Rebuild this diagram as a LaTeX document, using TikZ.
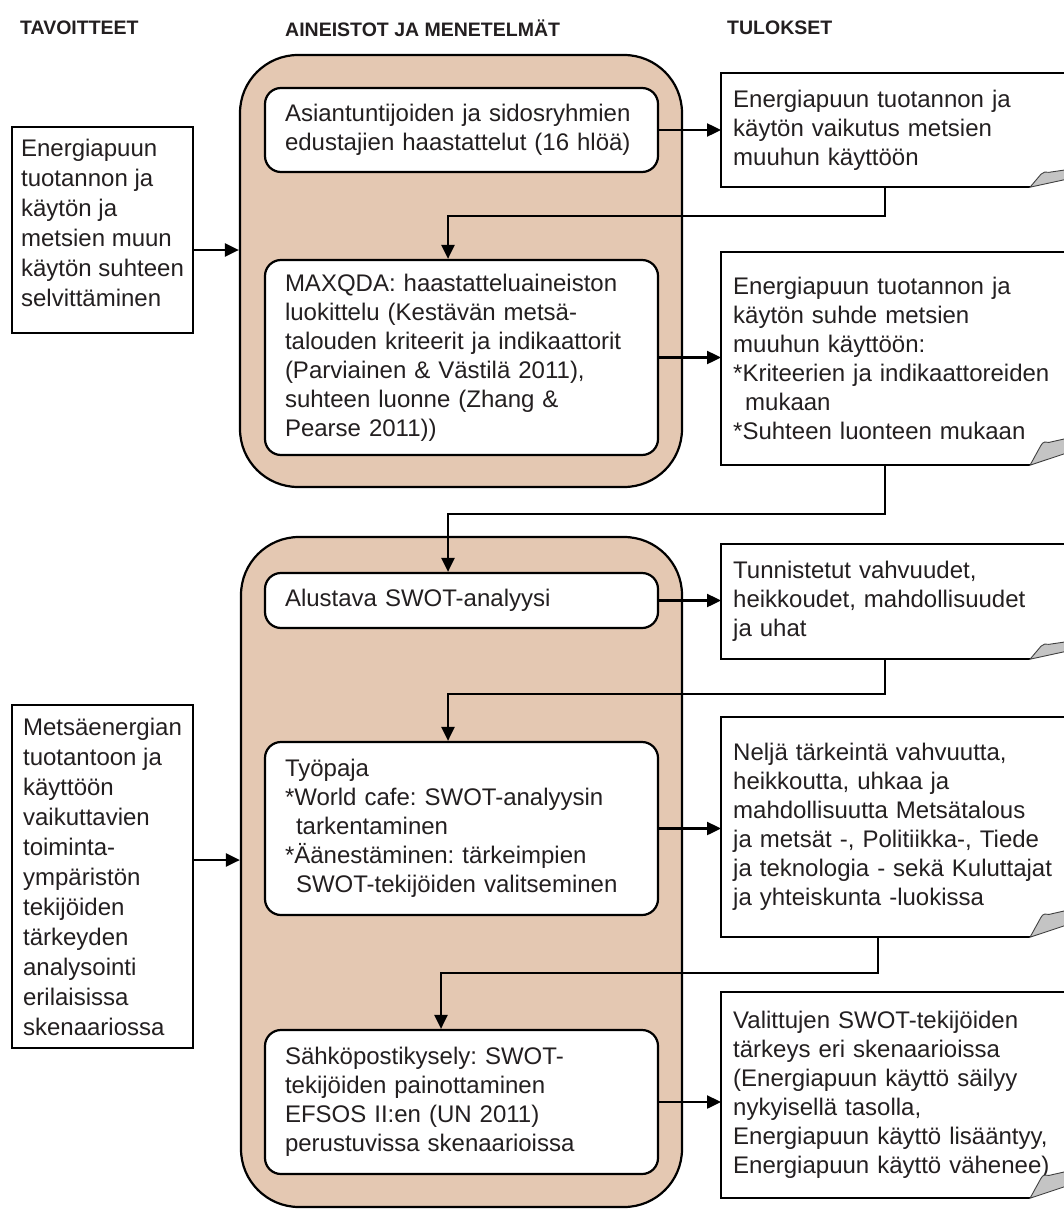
\documentclass[tikz,border=0pt]{standalone}
\usepackage{fontspec}
\setmainfont{Liberation Sans}
\usetikzlibrary{arrows.meta,calc}
\definecolor{mytan}{HTML}{E4C8B2}
\definecolor{txt}{HTML}{231F20}
\definecolor{curlgray}{HTML}{C4C4C4}
\newcommand\resoutline[2]{%
  \draw[line width=2.2] (#1.north east) -- (#1.north west) -- (#1.south west) -- (#1.south west -| xc);
  \begin{scope}[shift={(#1.south west -| xc)}, yscale=#2]
    \filldraw[fill=curlgray, draw=black!75, line width=0.9] (0,0) -- (11,-21) .. controls (13,-25) and (16,-25) .. (19,-24) -- (40,-29) -- (40,-14) -- cycle;
  \end{scope}}
\frenchspacing
\begin{document}
\begin{tikzpicture}[x=1pt,y=-1pt,
  every node/.style={text=txt, font=\fontsize{24}{29}\selectfont},
  header/.style={anchor=west, inner sep=0, font=\fontsize{19.5}{22}\selectfont\bfseries},
  container/.style={draw, fill=mytan, rounded corners=58, line width=2.2, inner sep=0},
  inbox/.style={draw, fill=white, rounded corners=16, line width=2.2, text width=353, inner xsep=20, inner ysep=0, align=left, minimum width=393},
  leftbox/.style={draw, fill=white, line width=2.2, align=left, minimum width=181, inner xsep=0, inner ysep=0, font=\fontsize{24}{30}\selectfont},
  resbox/.style={anchor=west, text width=330, inner xsep=12, inner ysep=0, align=left},
  arr/.style={-{Triangle[length=14pt,width=13pt]}, line width=2.4},
  conn/.style={line width=2.4}]
\useasboundingbox (0,0) rectangle (1064,1209);
\clip (0,0) rectangle (1064,1209);

% helper coordinates
\coordinate (xa) at (885,0);
\coordinate (xa2) at (878,0);
\coordinate (xc) at (1030,0);
\coordinate (y1) at (0,250);
\coordinate (y2) at (0,860);
\coordinate (b1) at (448,216);
\coordinate (b2) at (448,514);
\coordinate (b3) at (448,694);
\coordinate (b4) at (441,973);

% headers
\node[header] (h1) at (20,28) {TAVOITTEET};
\node[header] (h2) at (285,28) {AINEISTOT JA MENETELMÄT};
\node[header] (h3) at (727,28) {TULOKSET};

% containers
\node[container, minimum width=442, minimum height=432] (c1) at (461,271) {};
\node[container, minimum width=441, minimum height=670] (c2) at (461.5,872) {};

% left boxes
\node[leftbox, minimum height=206] (lb1) at (102.5,230)
  {Energiapuun\\tuotannon ja\\käytön ja\\metsien muun\\käytön suhteen\\selvittäminen\\[-16pt]\mbox{}};
\node[leftbox, minimum height=343] (lb2) at (102.5,876.5)
  {Metsäenergian\\tuotantoon ja\\käyttöön\\vaikuttavien\\toiminta-\\ympäristön\\tekijöiden\\tärkeyden\\analysointi\\erilaisissa\\skenaariossa};

% inner boxes
\node[inbox, minimum height=84] (ib1) at (461.5,130)
  {Asiantuntijoiden ja sidosryhmien\\edustajien haastattelut (16 hlöä)};
\node[inbox, minimum height=195] (ib2) at (461.5,357.5)
  {MAXQDA: haastatteluaineiston\\luokittelu (Kestävän metsä-\\talouden kriteerit ja indikaattorit\\(Parviainen \& Västilä 2011),\\suhteen luonne (Zhang \&\\Pearse 2011))};
\node[inbox, minimum height=55] (ib3) at (461.5,600.5)
  {Alustava SWOT-analyysi};
\node[inbox, minimum height=173] (ib4) at (461.5,828.5)
  {Työpaja\\{}*World cafe: SWOT-analyysin\\\hspace*{11pt}tarkentaminen\\{}*Äänestäminen: tärkeimpien\\\hspace*{11pt}SWOT-tekijöiden valitseminen};
\node[inbox, minimum height=144] (ib5) at (461.5,1102)
  {Sähköpostikysely: SWOT-\\tekijöiden painottaminen\\EFSOS II:en (UN 2011)\\perustuvissa skenaarioissa};

% result boxes
\node[resbox, minimum height=114] (rb1) at (721,130)
  {Energiapuun tuotannon ja\\käytön vaikutus metsien\\muuhun käyttöön};
\node[resbox, minimum height=213] (rb2) at (721,358.5)
  {Energiapuun tuotannon ja\\käytön suhde metsien\\muuhun käyttöön:\\{}*Kriteerien ja indikaattoreiden\\\hspace*{12pt}mukaan\\{}*Suhteen luonteen mukaan};
\node[resbox, minimum height=115] (rb3) at (721,601.5)
  {Tunnistetut vahvuudet,\\heikkoudet, mahdollisuudet\\ja uhat};
\node[resbox, minimum height=220] (rb4) at (721,827)
  {Neljä tärkeintä vahvuutta,\\heikkoutta, uhkaa ja\\mahdollisuutta Metsätalous\\ja metsät -, Politiikka-, Tiede\\ja teknologia - sekä Kuluttajat\\ja yhteiskunta -luokissa};
\node[resbox, minimum height=206] (rb5) at (721,1095)
  {Valittujen SWOT-tekijöiden\\tärkeys eri skenaarioissa\\(Energiapuun käyttö säilyy\\nykyisellä tasolla,\\Energiapuun käyttö lisääntyy,\\Energiapuun käyttö vähenee)};

\resoutline{rb1}{0.62}
\resoutline{rb2}{0.95}
\resoutline{rb3}{0.62}
\resoutline{rb4}{0.95}
\resoutline{rb5}{0.95}

% connectors
\draw[arr] (lb1.east |- y1) -- (c1.west |- y1);
\draw[arr] (lb2.east |- y2) -- (c2.west |- y2);
\draw[arr] (ib1.east) -- (ib1.east -| rb1.west);
\draw[arr] (ib2.east) -- (ib2.east -| rb2.west);
\draw[arr] (ib3.east) -- (ib3.east -| rb3.west);
\draw[arr] (ib4.east) -- (ib4.east -| rb4.west);
\draw[arr] (ib5.east) -- (ib5.east -| rb5.west);
\draw[arr] (rb1.south -| xa) |- (b1) -- (ib2.north -| b1);
\draw[arr] (rb2.south -| xa) |- (b2) -- (ib3.north -| b2);
\draw[arr] (rb3.south -| xa) |- (b3) -- (ib4.north -| b3);
\draw[arr] (rb4.south -| xa2) |- (b4) -- (ib5.north -| b4);
\end{tikzpicture}
\end{document}
